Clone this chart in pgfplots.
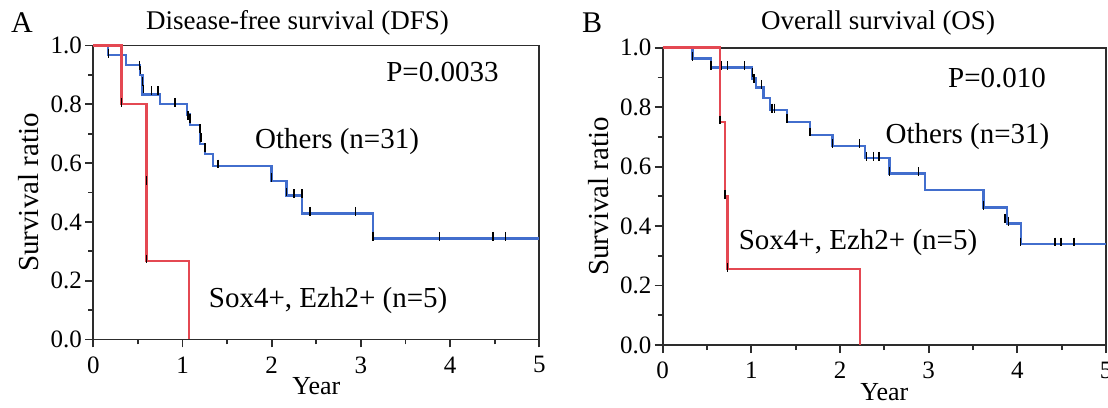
\documentclass[border=0pt]{standalone}
\usepackage{fontspec}
\setmainfont{Liberation Serif}
\usepackage{pgfplots}
\pgfplotsset{compat=1.18}
\definecolor{kmblue}{RGB}{66,110,205}
\definecolor{kmred}{RGB}{228,72,82}
\definecolor{axgray}{RGB}{45,45,45}

\pgfplotsset{kmaxis/.style={
    scale only axis, height=147pt,
    xmin=0, xmax=5, ymin=0, ymax=1,
    xtick={0,1,2,3,4,5}, ytick={0,0.2,0.4,0.6,0.8,1},
    minor x tick num=1, minor y tick num=1,
    tick align=outside, xtick pos=bottom, ytick pos=left,
    major tick length=4pt, minor tick length=2.5pt,
    axis line style={axgray, line width=0.9pt},
    every tick/.style={axgray, line width=0.9pt},
    tick label style={font=\fontsize{12.5}{14}\selectfont},
    /pgf/number format/assume math mode=true,
    yticklabel style={/pgf/number format/.cd, fixed, fixed zerofill, precision=1, /tikz/inner xsep=1.5pt},
    xticklabel style={yshift=-1pt},
    xlabel={Year}, ylabel={Survival ratio},
    xlabel style={font=\fontsize{13}{15}\selectfont, at={(axis description cs:0.5,-0.16)}, anchor=center},
    ylabel style={font=\fontsize{14.5}{16}\selectfont, at={(axis description cs:-0.145,0.5)}, anchor=center},
    clip=false,
    kmline/.style={const plot, line width=1.2pt},
    censor/.style={only marks, mark=|, mark size=2.2pt, mark options={black, line width=0.75pt, yshift=1pt}},
}}

\begin{document}
\begin{tikzpicture}
% A: disease-free survival
\begin{axis}[kmaxis, width=223pt, at={(46.65pt,33.75pt)}, anchor=south west]
\addplot[kmline, kmblue] coordinates {
(0,1) (0.168,0.967) (0.366,0.933) (0.523,0.90) (0.553,0.833) (0.747,0.80) (1.053,0.765) (1.083,0.73)
(1.195,0.664) (1.25,0.63) (1.344,0.59) (1.998,0.539) (2.166,0.49) (2.34,0.429) (3.136,0.344) (5,0.344)
};
\addplot[kmline, kmred] coordinates {
(0,1) (0.318,0.8) (0.598,0.267) (1.075,0)
};
\addplot[censor] coordinates {
(0.168,0.967) (0.52,0.925) (0.53,0.91) (0.553,0.87) (0.56,0.845) (0.654,0.84) (0.728,0.84) (0.915,0.80)
(1.06,0.755) (1.083,0.745) (1.195,0.71) (1.21,0.68) (1.25,0.645) (1.40,0.59) (1.998,0.545) (2.166,0.495)
(2.25,0.49) (2.34,0.49) (2.43,0.429) (2.94,0.429) (3.136,0.344) (3.88,0.344) (4.48,0.344) (4.62,0.344)
(0.318,0.8) (0.598,0.533) (0.598,0.267)
};
\node[font=\fontsize{14.5}{16}\selectfont] at (axis cs:3.914,0.910) {P=0.0033};
\node[font=\fontsize{14.5}{16}\selectfont] at (axis cs:2.733,0.672) {Others (n=31)};
\node[font=\fontsize{14.5}{16}\selectfont] at (axis cs:2.633,0.134) {Sox4+, Ezh2+ (n=5)};
\end{axis}

% B: overall survival
\begin{axis}[kmaxis, width=221.65pt, height=148.65pt, at={(331.35pt,31pt)}, anchor=south west]
\addplot[kmline, kmblue] coordinates {
(0,1) (0.338,0.964) (0.545,0.933) (1.004,0.897) (1.052,0.866) (1.135,0.83) (1.21,0.79) (1.40,0.751)
(1.66,0.706) (1.917,0.67) (2.28,0.628) (2.556,0.577) (2.958,0.521) (3.616,0.463) (3.88,0.409) (4.038,0.34) (5,0.34)
};
\addplot[kmline, kmred] coordinates {
(0,1) (0.646,0.75) (0.70,0.50) (0.73,0.255) (2.225,0)
};
\addplot[censor] coordinates {
(0.338,0.964) (0.545,0.933) (0.665,0.933) (0.733,0.933) (0.92,0.933) (1.01,0.91) (1.03,0.89) (1.117,0.87)
(1.23,0.79) (1.26,0.79) (1.40,0.755) (1.66,0.71) (1.917,0.67) (2.22,0.67) (2.30,0.628) (2.375,0.628)
(2.44,0.628) (2.556,0.577) (2.883,0.577) (3.616,0.463) (3.86,0.42) (3.90,0.41) (4.038,0.34) (4.425,0.34)
(4.49,0.34) (4.64,0.34)
(0.646,0.75) (0.70,0.50) (0.73,0.255)
};
\node[font=\fontsize{14.5}{16}\selectfont] at (axis cs:3.771,0.898) {P=0.010};
\node[font=\fontsize{14.5}{16}\selectfont] at (axis cs:3.438,0.700) {Others (n=31)};
\node[font=\fontsize{14.5}{16}\selectfont] at (axis cs:2.203,0.343) {Sox4+, Ezh2+ (n=5)};
\end{axis}

\node[font=\fontsize{13.5}{15}\selectfont] at (148.75pt,192pt) {Disease-free survival (DFS)};
\node[font=\fontsize{13.5}{15}\selectfont] at (439pt,192pt) {Overall survival (OS)};
\node[font=\fontsize{15}{17}\selectfont] at (11pt,192pt) {A};
\node[font=\fontsize{15}{17}\selectfont] at (296pt,192pt) {B};

\pgfresetboundingbox
\path[use as bounding box] (0,0) rectangle (554pt,203.5pt);
\end{tikzpicture}
\end{document}
